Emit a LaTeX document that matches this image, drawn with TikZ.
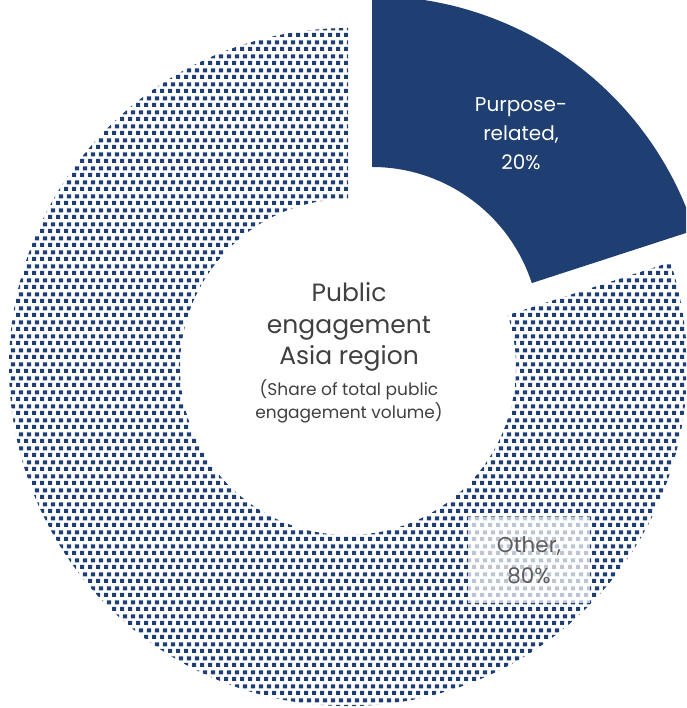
\documentclass[tikz,border=0pt]{standalone}
\usepackage{fontspec}
\setmainfont{Poppins}
\usetikzlibrary{positioning, patterns.meta}
\definecolor{navy}{HTML}{1F3E72}
\definecolor{labelgray}{HTML}{404040}
\tikzdeclarepattern{
    name=minisquares,
    type=uncolored,
    bottom left={(0pt,0pt)},
    top right={(7.5pt,14pt)},
    tile size={(7.5pt,14pt)},
    code={
        \fill (0pt,0pt) rectangle (4.4pt,4.4pt);
        \fill (3.1pt,7pt) rectangle (7.5pt,11.4pt);
    }
}
\tikzset{
    otherSeg/.style={pattern=minisquares, pattern color=navy},
    purposeSeg/.style={fill=navy},
    centreTxt/.style={text=labelgray, align=center, inner sep=0pt, font=\fontsize{25}{31.5}\selectfont},
    subTxt/.style={text=labelgray, align=center, inner sep=0pt, font=\fontsize{17}{23}\selectfont},
    purposeTxt/.style={text=white, align=center, inner sep=0pt, font=\fontsize{20}{29}\selectfont},
    otherTxt/.style={text=labelgray!85, align=center, fill=white, fill opacity=0.7, text opacity=1,
        minimum width=122, minimum height=86, font=\fontsize{21.5}{31}\selectfont},
    node distance=1.5
}

\begin{document}
\begin{tikzpicture}[x=1pt, y=1pt]
  \useasboundingbox (0,0) rectangle (686,708);
  \clip (0,0) rectangle (686,708);

  % other, 80%
  \begin{scope}[shift={(348,341)}]
    \fill[otherSeg] (18:339) arc[start angle=18, end angle=-270, radius=339]
      -- (90:168) arc[start angle=90, end angle=378, radius=168] -- cycle;
  \end{scope}
  % purpose-related, 20% (pulled out)
  \begin{scope}[shift={(372,373)}]
    \fill[purposeSeg] (90:339) arc[start angle=90, end angle=18, radius=339]
      -- (18:168) arc[start angle=18, end angle=90, radius=168] -- cycle;
  \end{scope}

  \node[purposeTxt] (purpose) at (521,574) {Purpose-\\related,\\20\%};
  \node[centreTxt] (title) at (349,381) {Public\\engagement\\Asia region};
  \node[subTxt, below = 8 of title] (sub) {(Share of total public\\engagement volume)};
  \node[otherTxt] (other) at (529,148) {Other,\\80\%};
\end{tikzpicture}
\end{document}
